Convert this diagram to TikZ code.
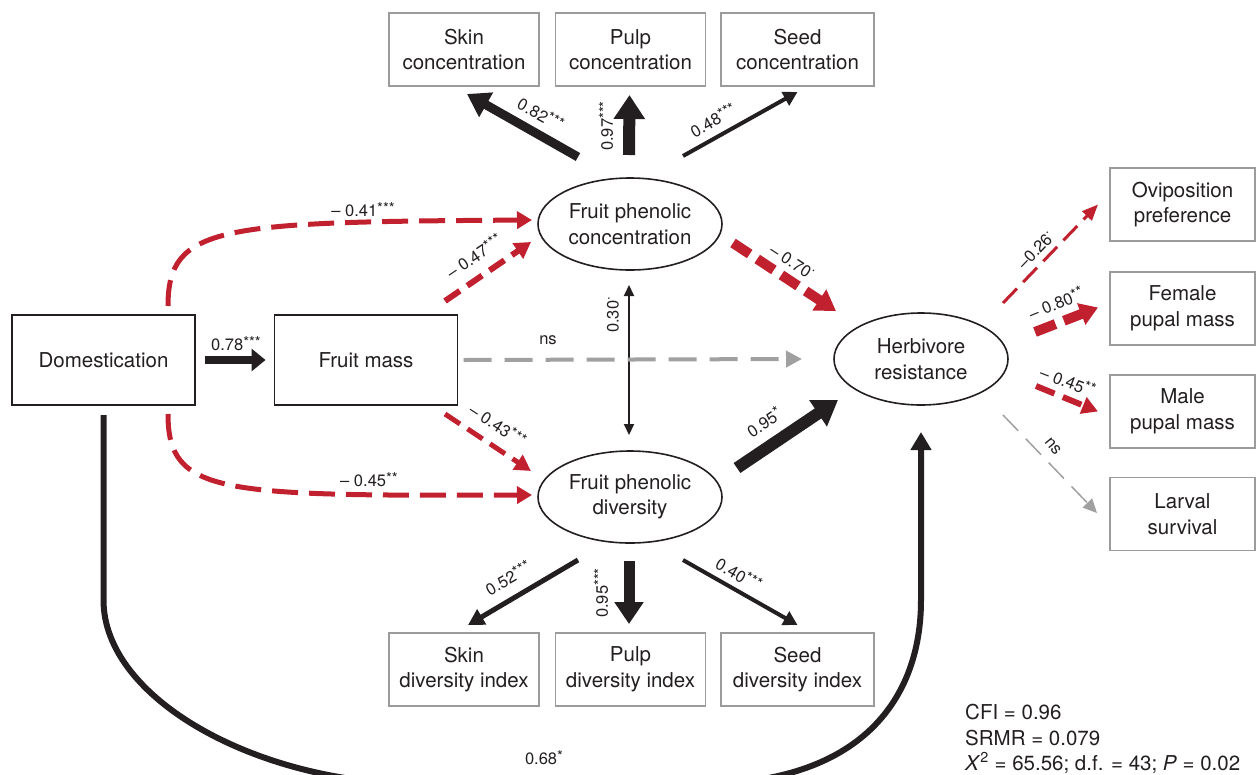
\documentclass[tikz,border=0pt]{standalone}
\usepackage{fontspec}
\setmainfont{TeX Gyre Heros}
\usetikzlibrary{arrows.meta,shapes.geometric,calc}
\definecolor{rd}{RGB}{193,32,47}
\definecolor{gbox}{RGB}{155,155,155}
\definecolor{garr}{RGB}{160,160,160}
\definecolor{txt}{RGB}{35,31,32}
\newcommand{\sig}[1]{\raisebox{0.35ex}{\fontsize{15}{15}\selectfont #1}}
\newcommand{\mdot}{\raisebox{1.05ex}{\fontsize{13}{13}\selectfont .}}
\tikzset{
  maintext/.style={font=\fontsize{20.5}{25.5}\selectfont, text=txt, align=center},
  bbox/.style={maintext, draw=txt, line width=1.8pt, minimum width=183pt, minimum height=90pt, inner sep=0pt, outer sep=0pt},
  gbx/.style={maintext, draw=gbox, line width=1.8pt, minimum width=150pt, minimum height=73pt, inner sep=0pt, outer sep=0pt},
  ell/.style={maintext, ellipse, draw=txt, line width=1.6pt, minimum width=184pt, minimum height=92pt, inner sep=0pt, outer sep=0pt},
  lab/.style={font=\fontsize{16.5}{18}\selectfont, text=txt, inner sep=1pt},
  stat/.style={font=\fontsize{20.5}{25.5}\selectfont, text=txt, align=left, inner sep=0pt},
  blkarr/.style n args={3}{draw=txt, line width=#1, -{Triangle[width=#2,length=#3]}},
  rdarr/.style n args={5}{draw=rd, line width=#1, dash pattern=on #2 off #3, -{Triangle[width=#4,length=#5]}},
  grarr/.style n args={5}{draw=garr, line width=#1, dash pattern=on #2 off #3, -{Triangle[width=#4,length=#5]}},
}
\begin{document}
\begin{tikzpicture}[x=1pt,y=-1pt]
\useasboundingbox (0,0) rectangle (1256,774);

% nodes
\node[bbox] (dom) at (103.5,360) {Domestication};
\node[bbox] (fm) at (366,360) {Fruit mass};
\node[ell] (fpc) at (630,224) {Fruit phenolic\\concentration};
\node[ell] (fpd) at (630,497) {Fruit phenolic\\diversity};
\node[ell, minimum width=174pt] (hr) at (921,359) {Herbivore\\resistance};
\node[gbx] (skinc) at (464,49.5) {Skin\\concentration};
\node[gbx] (pulpc) at (630.5,49.5) {Pulp\\concentration};
\node[gbx, minimum width=153pt] (seedc) at (797.5,49.5) {Seed\\concentration};
\node[gbx] (skind) at (464,669.5) {Skin\\diversity index};
\node[gbx] (pulpd) at (630.5,669.5) {Pulp\\diversity index};
\node[gbx, minimum width=153pt] (seedd) at (797.5,669.5) {Seed\\diversity index};
\node[gbx, minimum width=145pt] (ovi) at (1182.5,204.5) {Oviposition\\preference};
\node[gbx, minimum width=145pt] (fem) at (1182.5,308.5) {Female\\pupal mass};
\node[gbx, minimum width=145pt] (male) at (1182.5,411.5) {Male\\pupal mass};
\node[gbx, minimum width=145pt] (larv) at (1182.5,514) {Larval\\survival};

% black solid paths
\draw[blkarr={8pt}{22pt}{14pt}] ($(dom.east)+(10,0)$) -- ($(fm.west)+(-9,0)$);
\draw[blkarr={9pt}{27pt}{22pt}] ($(fpc)+(-52,-67)$) -- ($(skinc.south)+(3,8)$);
\draw[blkarr={12pt}{30pt}{24pt}] ($(fpc.north)+(-1,-23)$) -- ($(pulpc.south)+(-1,9)$);
\draw[blkarr={4pt}{15pt}{14pt}] ($(fpc)+(53,-68)$) -- ($(seedc.south)+(0,6)$);
\draw[blkarr={5pt}{17pt}{16pt}] ($(fpd)+(-52,63)$) -- ($(skind.north)+(4,-8)$);
\draw[blkarr={11pt}{28pt}{22pt}] ($(fpd.south)+(-1,18)$) -- ($(pulpd.north)+(-1.5,-9)$);
\draw[blkarr={4pt}{15pt}{14pt}] ($(fpd)+(53,63)$) -- ($(seedd.north)+(0,-8)$);
\draw[blkarr={12pt}{30pt}{24pt}] ($(fpd)+(107,-29)$) -- ($(hr)+(-83,41)$);
\draw[draw=txt, line width=2pt, {Triangle[width=10pt,length=11pt]}-{Triangle[width=10pt,length=11pt]}] ($(fpc.south)+(-1,15)$) -- ($(fpd.north)+(-1,-16)$);
\draw[blkarr={6pt}{20pt}{18pt}] ($(dom.south)+(0,10)$) -- (103.5,600) .. controls (103.5,700) and (260,784) .. (420,784) -- (700,784) .. controls (860,784) and (921,700) .. (921,600) -- ($(hr.south)+(0,27)$);

% red dashed paths
\draw[rdarr={5pt}{26pt}{11pt}{17pt}{15pt}] ($(dom.north)+(64.5,-9)$) .. controls (168,225) and (220,222) .. ($(fpc.west)+(-6,-4)$);
\draw[rdarr={5pt}{26pt}{11pt}{17pt}{15pt}] ($(dom.south)+(64.5,9)$) .. controls (168,495) and (220,496) .. ($(fpd.west)+(-6,-2)$);
\draw[rdarr={6pt}{18pt}{9pt}{18pt}{16pt}] ($(fm)+(79,-59)$) -- ($(fpc)+(-99,18)$);
\draw[rdarr={5pt}{18pt}{9pt}{17pt}{16pt}] ($(fm)+(79,54)$) -- ($(fpd)+(-99,-26)$);
\draw[rdarr={10pt}{20pt}{9pt}{24pt}{20pt}] ($(fpc)+(103,19)$) -- ($(hr)+(-85,-48)$);
\draw[rdarr={3pt}{20pt}{9pt}{13pt}{16pt}] ($(hr)+(82,-56)$) -- ($(ovi.west)+(-12,0)$);
\draw[rdarr={10pt}{22pt}{9pt}{22pt}{18pt}] ($(hr)+(114,-27)$) -- ($(fem.west)+(-12,-1)$);
\draw[rdarr={6pt}{20pt}{9pt}{17pt}{16pt}] ($(hr)+(115,27)$) -- ($(male.west)+(-12,0)$);

% gray dashed paths
\draw[grarr={4pt}{28pt}{13pt}{16pt}{16pt}] ($(fm.east)+(6,0)$) -- ($(hr.west)+(-32,0)$);
\draw[grarr={1.5pt}{22pt}{11pt}{13pt}{14pt}] ($(hr)+(82,56)$) -- ($(larv.west)+(-13,-1)$);

% labels
\node[lab] at (236,344) {0.78\sig{***}};
\node[lab] at (548,340) {ns};
\node[lab] at (363,210) {– 0.41\sig{***}};
\node[lab] at (369,480) {– 0.45\sig{**}};
\node[lab, rotate=34] at (474,256) {– 0.47\sig{***}};
\node[lab, rotate=-33] at (498,425) {– 0.43\sig{***}};
\node[lab, rotate=90] at (613,315) {0.30\mdot};
\node[lab, rotate=-33] at (792,262) {– 0.70\mdot};
\node[lab, rotate=34] at (764,422) {0.95\sig{*}};
\node[lab, rotate=-29] at (541,114) {0.82\sig{***}};
\node[lab, rotate=90] at (606,126) {0.97\sig{***}};
\node[lab, rotate=29] at (713,120) {0.48\sig{***}};
\node[lab, rotate=30] at (508,578) {0.52\sig{***}};
\node[lab, rotate=90] at (601,593) {0.95\sig{***}};
\node[lab, rotate=-30] at (739,574) {0.40\sig{***}};
\node[lab, rotate=46] at (1036,250) {–0.26\mdot};
\node[lab, rotate=22] at (1056,303) {– 0.80\sig{**}};
\node[lab, rotate=-21] at (1068,381) {– 0.45\sig{**}};
\node[lab, rotate=-50] at (1053,446) {ns};
\node[lab] at (544,758) {0.68\sig{*}};

\node[stat, anchor=north west] (stats) at (965,704) {CFI = 0.96\\SRMR = 0.079\\\textit{X}\textsuperscript{2} = 65.56; d.f. = 43; \textit{P} = 0.02};
\end{tikzpicture}
\end{document}
